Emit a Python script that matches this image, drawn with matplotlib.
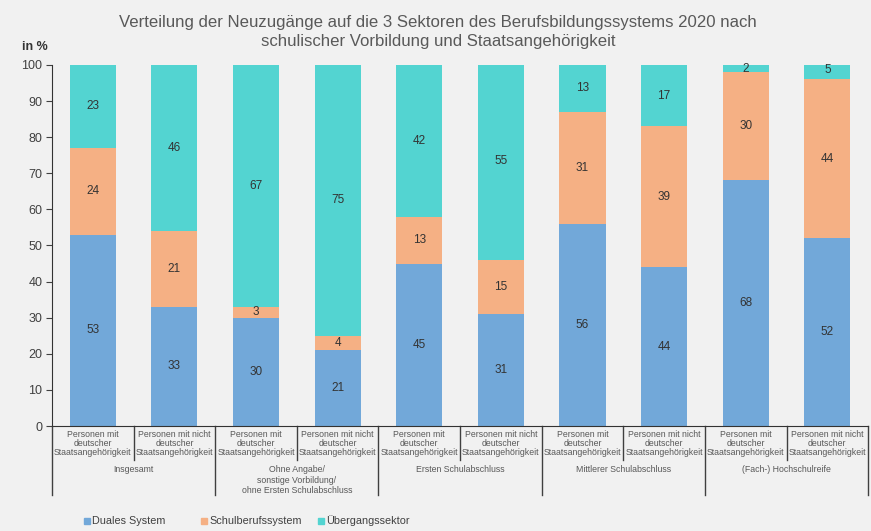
import numpy as np
import matplotlib.pyplot as plt
from matplotlib.patches import Rectangle
from matplotlib.transforms import blended_transform_factory

plt.rcParams['font.family'] = ['Liberation Sans', 'DejaVu Sans']

titel = ('Verteilung der Neuzugänge auf die 3 Sektoren des Berufsbildungssystems 2020 nach\n'
         'schulischer Vorbildung und Staatsangehörigkeit')

gruppen = ['Insgesamt',
           'Ohne Angabe/\nsonstige Vorbildung/\nohne Ersten Schulabschluss',
           'Ersten Schulabschluss',
           'Mittlerer Schulabschluss',
           '(Fach-) Hochschulreife']
personen = ['Personen mit\ndeutscher\nStaatsangehörigkeit',
            'Personen mit nicht\ndeutscher\nStaatsangehörigkeit']

dual = [53, 33, 30, 21, 45, 31, 56, 44, 68, 52]
schulberuf = [24, 21, 3, 4, 13, 15, 31, 39, 30, 44]
uebergang = [23, 46, 67, 75, 42, 55, 13, 17, 2, 5]

reihen = [('Duales System', dual, '#72a8d9'),
          ('Schulberufssystem', schulberuf, '#f5b084'),
          ('Übergangssektor', uebergang, '#53d4d1')]

hg = '#f1f1f1'
grau = '#595959'

fig = plt.figure(figsize=(8.71, 5.31), dpi=100, facecolor=hg)
ax = fig.add_axes([0.0597, 0.1977, 0.937, 0.68])
ax.set_facecolor(hg)

x = np.arange(len(dual))
unten = np.zeros(len(dual))
for name, werte, farbe in reihen:
    werte = np.array(werte, dtype=float)
    ax.bar(x, werte, 0.565, bottom=unten, color=farbe, label=name, zorder=2)
    for xi, u, w in zip(x, unten, werte):
        yt = min(u + w / 2, 98.9)
        ax.text(xi, yt, f'{int(w)}', ha='center', va='center', fontsize=8.5, color='#333333')
    unten += werte

ax.set_xlim(-0.5, len(dual) - 0.5)
ax.set_ylim(0, 100)
ax.set_yticks(np.arange(0, 101, 10))
ax.tick_params(axis='y', direction='out', length=4, labelsize=9, colors='#404040', pad=3)
ax.tick_params(axis='x', length=0, labelbottom=False)
for s in ['top', 'right']:
    ax.spines[s].set_visible(False)
ax.spines['left'].set_color('#333333')
ax.spines['bottom'].set_color('#333333')

# Kategorie-Beschriftung unter der Achse
tr = blended_transform_factory(ax.transData, ax.transAxes)
for i in range(len(dual)):
    ax.text(i, -0.011, personen[i % 2], transform=tr, ha='center', va='top',
            fontsize=6.3, color=grau, linespacing=1.02)
for g, name in enumerate(gruppen):
    ax.text(2 * g + 0.5, -0.109, name, transform=tr, ha='center', va='top',
            fontsize=6.3, color=grau, linespacing=1.2)

# Trennlinien zwischen Kategorien und Gruppen
for k in range(len(dual) + 1):
    xs = k - 0.5
    y_end = -0.19 if k % 2 == 0 else -0.095
    ax.plot([xs, xs], [0, y_end], transform=tr, color='#404040', lw=1.0, clip_on=False)

ax.text(-0.021, 1.05, 'in %', transform=ax.transAxes, ha='center', va='center',
        fontsize=9, fontweight='bold', color='#333333')

fig.text(0.503, 0.94, titel, ha='center', va='center', fontsize=12.1,
         color=grau, linespacing=1.35)

# Legende unten
leg_x = [87, 204, 321]
for (name, _, farbe), px in zip(reihen, leg_x):
    fig.add_artist(Rectangle((px / 871 - 0.003, 10 / 531 - 0.0048), 0.0062, 0.0098,
                             transform=fig.transFigure, color=farbe))
    fig.text((px + 5) / 871, 10 / 531, name, ha='left', va='center',
             fontsize=7.8, color='#404040')

plt.savefig('out.png', dpi=100, facecolor=hg)
